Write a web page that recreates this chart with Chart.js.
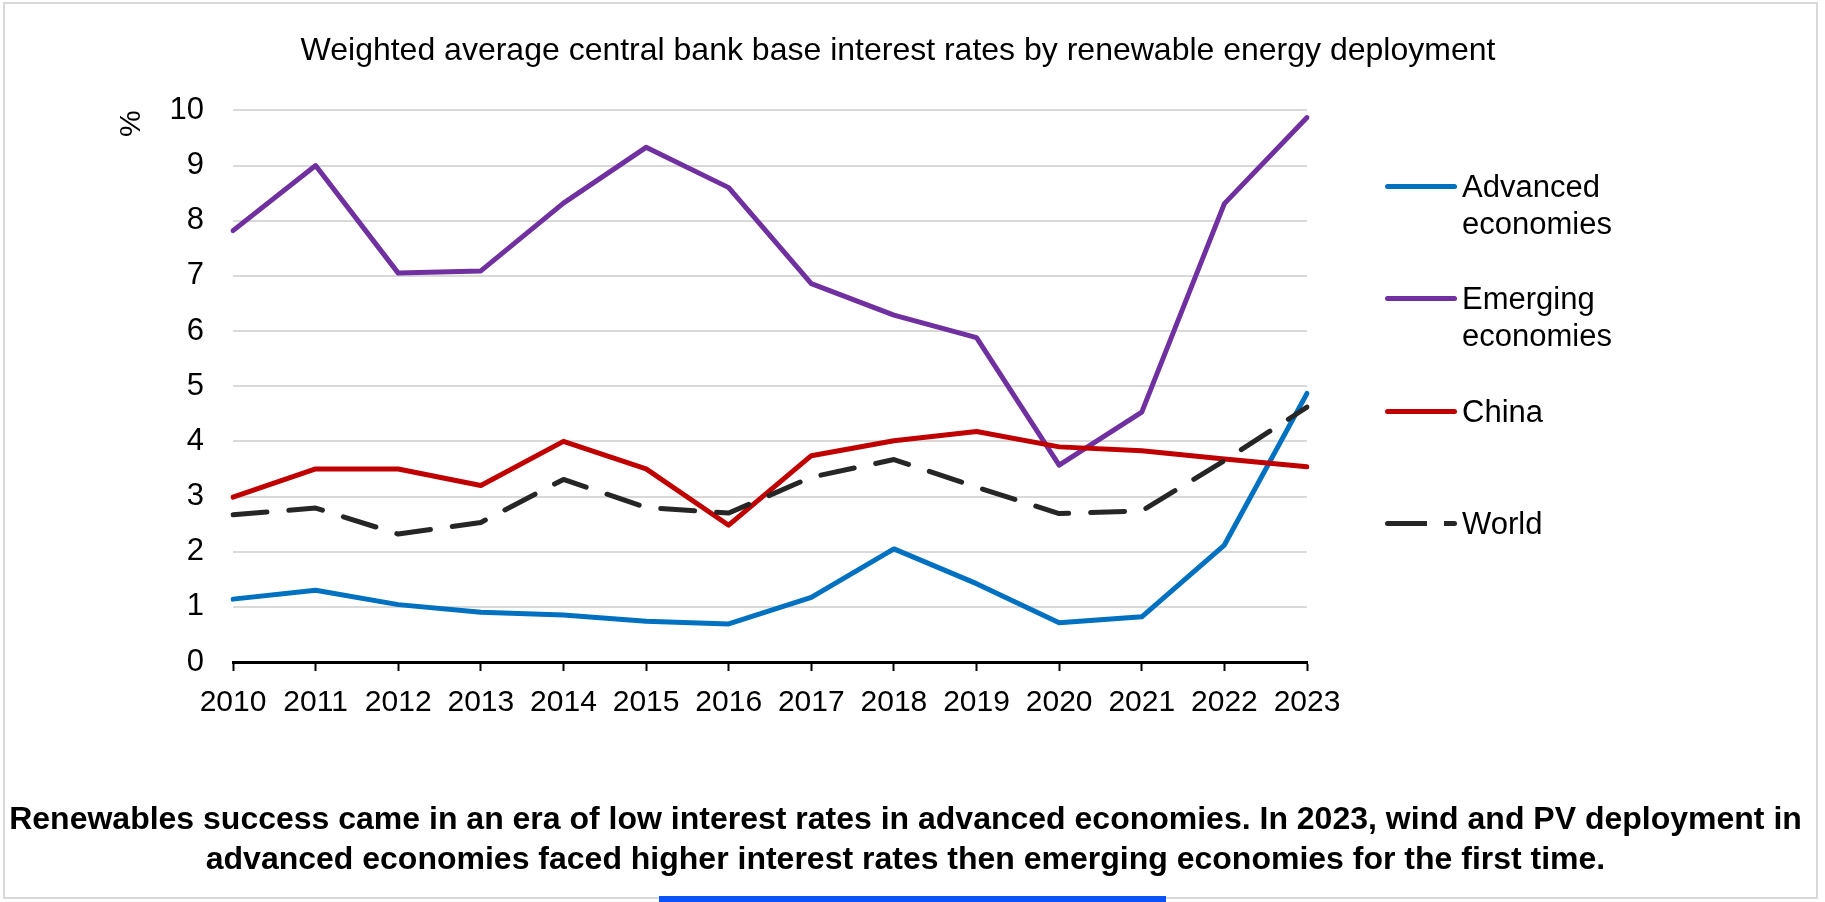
<!DOCTYPE html>
<html lang="en">
<head>
<meta charset="utf-8">
<title>Weighted average central bank base interest rates</title>
<script src="https://cdn.jsdelivr.net/npm/chart.js@4.4.1/dist/chart.umd.min.js"></script>
<style>
  body { margin: 0; background: #fff; font-family: "Liberation Sans", Arial, sans-serif; }
  #pagina { position: relative; width: 1825px; height: 902px; overflow: hidden; background: #fff; }
  #marco { position: absolute; left: 3px; top: 2px; width: 1811px; height: 893px; border: 2px solid #d9d9d9; }
  canvas { position: absolute; left: 0; top: 0; }
  .item { position: absolute; left: 1385px; height: 80px; }
  .linea { position: absolute; left: 0; top: 16px; width: 72px; height: 5px; border-radius: 3px; }
  .texto { position: absolute; left: 77px; top: 0; width: 220px; font-size: 31px; line-height: 37px; color: #000; }
  #nota { position: absolute; left: 0; top: 798px; width: 1811px; text-align: center; font-weight: bold; font-size: 32px; line-height: 40px; color: #000; }
  #barra { position: absolute; left: 659px; top: 896px; width: 507px; height: 6px; background: #0b53f8; }
</style>
</head>
<body>
<div id="pagina">
  <div id="marco"></div>
  <canvas id="grafico" width="1825" height="902"></canvas>
  <div id="leyenda"></div>
  <div id="nota">Renewables success came in an era of low interest rates in advanced economies. In 2023, wind and PV deployment in<br>advanced economies faced higher interest rates then emerging economies for the first time.</div>
  <div id="barra"></div>
</div>
<script>
// datos
const anios = ['2010', '2011', '2012', '2013', '2014', '2015', '2016', '2017', '2018', '2019', '2020', '2021', '2022', '2023'];
const avanzadas = [1.14, 1.30, 1.04, 0.90, 0.85, 0.74, 0.69, 1.17, 2.05, 1.42, 0.71, 0.82, 2.12, 4.87];
const emergentes = [7.82, 9.00, 7.05, 7.09, 8.32, 9.33, 8.60, 6.86, 6.29, 5.88, 3.57, 4.53, 8.31, 9.87];
const china = [2.99, 3.50, 3.50, 3.20, 4.00, 3.50, 2.48, 3.74, 4.01, 4.18, 3.90, 3.83, 3.68, 3.54];
const mundo = [2.67, 2.79, 2.32, 2.53, 3.31, 2.80, 2.70, 3.35, 3.67, 3.17, 2.69, 2.74, 3.65, 4.62];
const nombres = ['Advanced economies', 'Emerging economies', 'China', 'World'];

const colores = ['#0070c0', '#7030a0', '#c00000', '#262626'];

Chart.defaults.font.family = '"Liberation Sans", Arial, sans-serif';
Chart.defaults.color = '#000';

function serie(i, valores) {
    return {
        label: nombres[i],
        data: valores,
        borderColor: colores[i],
        backgroundColor: colores[i],
        borderWidth: 5,
        borderJoinStyle: 'round',
        borderCapStyle: 'round',
        borderDash: i === 3 ? [34, 22] : [],
        pointRadius: 0,
        tension: 0,
        fill: false,
        order: 3 - i   // World queda encima, como en el original
    };
}

const config = {
    type: 'line',
    data: {
        labels: anios,
        datasets: [
            serie(0, avanzadas),
            serie(1, emergentes),
            serie(2, china),
            serie(3, mundo)
        ]
    },
    options: {
        responsive: false,
        animation: false,
        layout: { padding: { left: 0, right: 29, top: 0, bottom: 170 } },
        plugins: {
            legend: { display: false },
            tooltip: { enabled: false },
            title: {
                display: true,
                text: 'Weighted average central bank base interest rates by renewable energy deployment',
                font: { size: 32, weight: 'normal' },
                color: '#000',
                padding: { top: 32, bottom: 40 }
            }
        },
        scales: {
            x: {
                offset: false,
                grid: { drawOnChartArea: false, drawTicks: true, tickLength: 9, tickColor: '#000', tickWidth: 2 },
                border: { display: true, color: '#000', width: 3 },
                ticks: { font: { size: 30 }, color: '#000', padding: 14, autoSkip: false, maxRotation: 0 },
                afterFit: function (escala) { escala.height = 70; }
            },
            y: {
                min: 0,
                max: 10,
                ticks: { stepSize: 1, font: { size: 31 }, color: '#000', padding: 29 },
                grid: { color: '#d9d9d9', lineWidth: 2, drawTicks: false },
                border: { display: false },
                title: { display: true, text: '%', align: 'end', font: { size: 30 }, color: '#000', padding: { top: 114, bottom: 0 } },
                afterFit: function (escala) { escala.width = 233; }
            },
            // eje vacio a la derecha para dejar sitio a la leyenda
            espacio: {
                axis: 'y',
                position: 'right',
                min: 0,
                max: 1,
                ticks: { display: false },
                grid: { display: false },
                border: { display: false },
                afterFit: function (escala) { escala.width = 489; }
            }
        }
    }
};

const grafico = new Chart(document.getElementById('grafico').getContext('2d'), config);

// leyenda en html a partir de las series
function crearLeyenda(chart) {
    const cont = document.getElementById('leyenda');
    chart.data.datasets.forEach((ds, i) => {
        const item = document.createElement('div');
        item.className = 'item';
        item.style.top = (168 + i * 112.4) + 'px';
        const linea = document.createElement('div');
        linea.className = 'linea';
        if (ds.borderDash.length) {
            linea.style.background = 'repeating-linear-gradient(to right, ' + ds.borderColor + ' 0 42px, transparent 42px 59px)';
        } else {
            linea.style.background = ds.borderColor;
        }
        const texto = document.createElement('div');
        texto.className = 'texto';
        texto.textContent = ds.label;
        item.appendChild(linea);
        item.appendChild(texto);
        cont.appendChild(item);
    });
}
crearLeyenda(grafico);
</script>
</body>
</html>
